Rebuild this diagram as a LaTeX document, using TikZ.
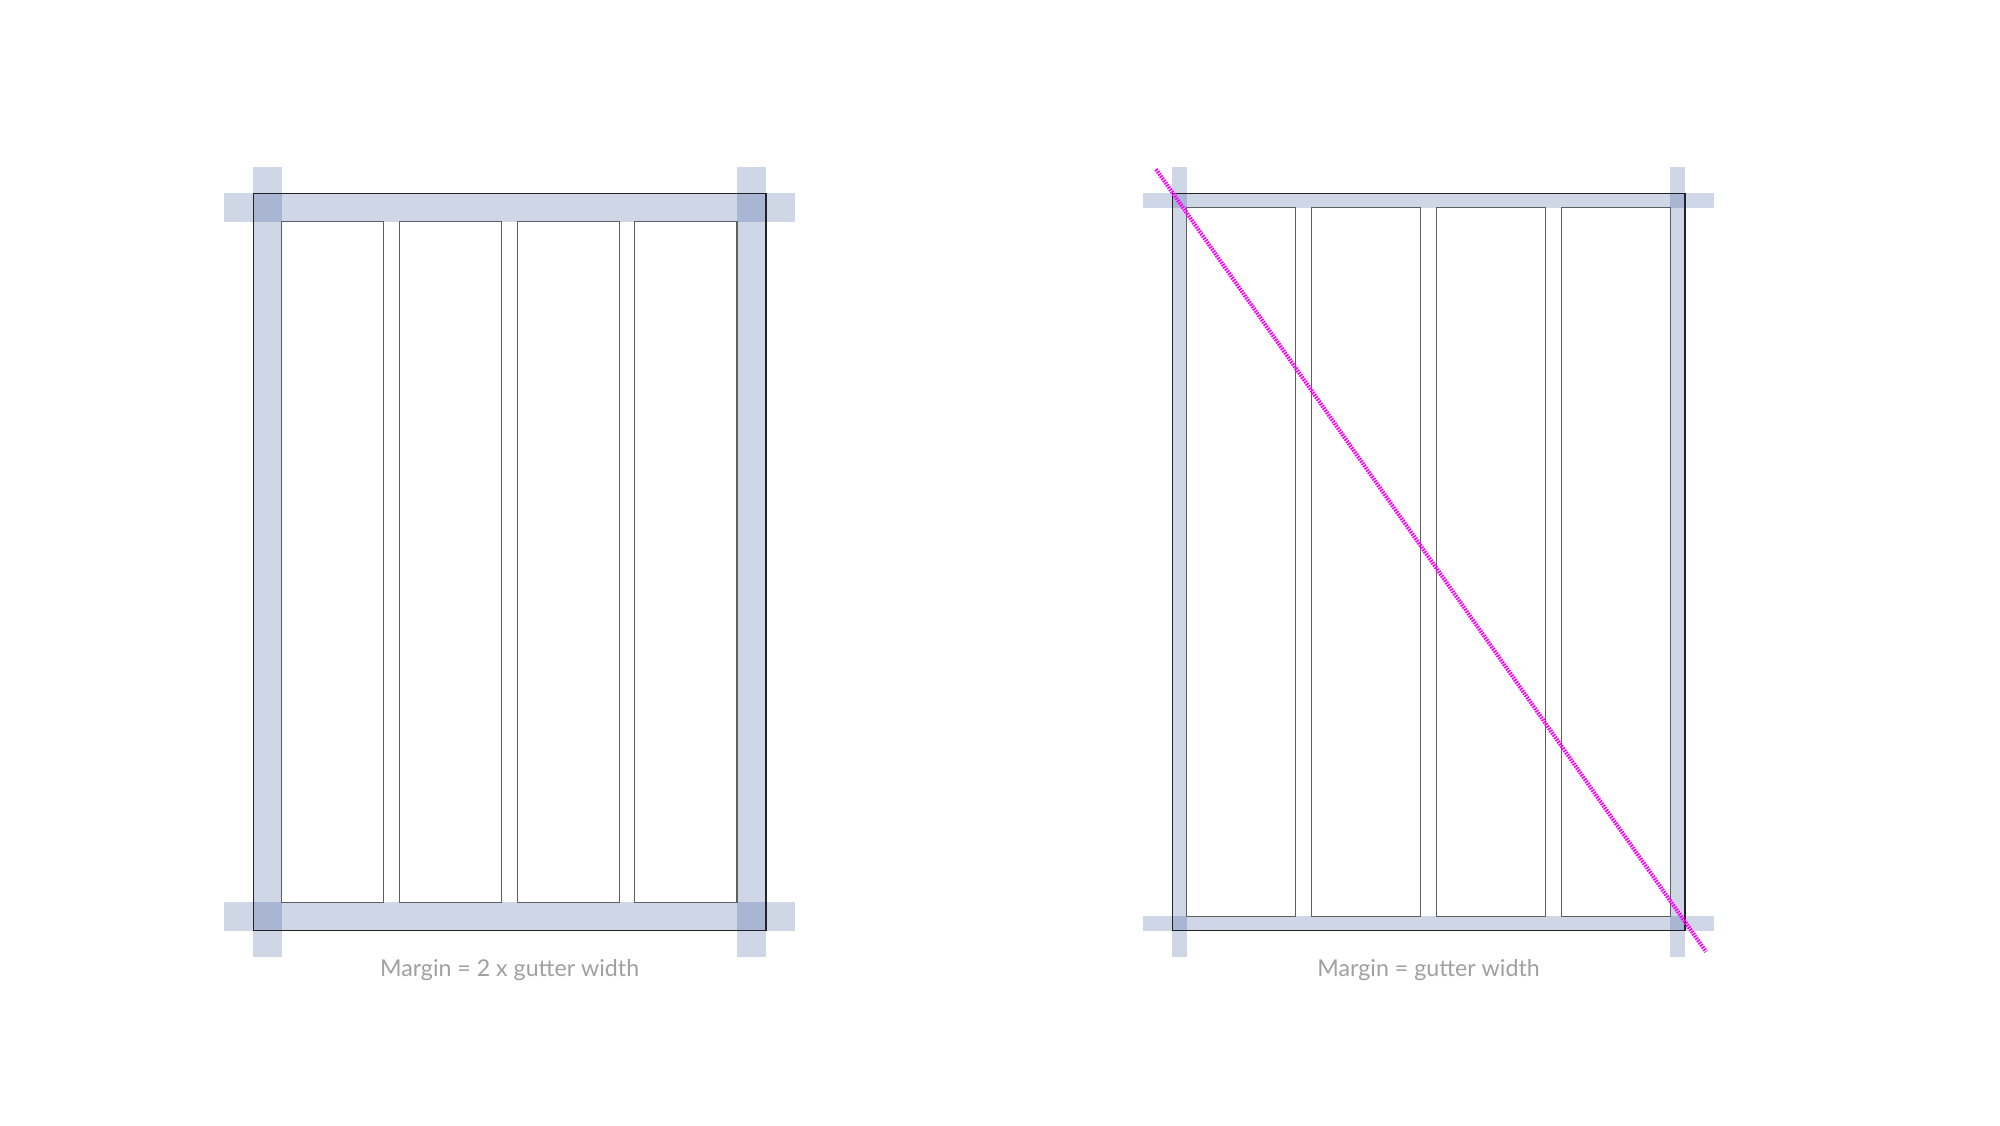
\documentclass[tikz,border=0pt]{standalone}
\usepackage{fontspec}
\setmainfont{Lato}
\usepackage{tikz}
\usetikzlibrary{positioning, backgrounds}

\definecolor{bandblue}{RGB}{0,40,125}
\definecolor{captiongray}{RGB}{160,160,160}
\definecolor{colgray}{RGB}{95,95,95}
\definecolor{framegray}{RGB}{35,35,35}
\definecolor{diagmagenta}{RGB}{250,0,250}

\begin{document}
\begin{tikzpicture}[x=1pt, y=1pt, inner sep=0pt, outer sep=0pt]
      \tikzstyle{frame}=[draw=framegray, line width=0.65pt, minimum width=256.35pt, minimum height=368.7pt]
      \tikzstyle{lcol}=[draw=colgray, line width=0.6pt, minimum width=51.05pt, minimum height=340.2pt]
      \tikzstyle{rcol}=[draw=colgray, line width=0.6pt, minimum width=54.46pt, minimum height=354.2pt]
      \tikzstyle{band}=[fill=bandblue, fill opacity=0.19]
      \tikzstyle{diagline}=[draw=diagmagenta, line width=2pt, dash pattern=on 0.8pt off 0.55pt]
      \tikzstyle{caption}=[text=captiongray, font=\fontsize{11.6}{14}\selectfont, anchor=base]

      \useasboundingbox (0,0) rectangle (1000,562.5);

      % Frames
      \node[frame] (lframe) at (254.8,281.5) {};
      \node[frame] (rframe) at (714.3,281.5) {};

      % Columns, margin = 2 x gutter
      \node[lcol, anchor=north west] (l1) at ([xshift=14.25pt, yshift=-14.25pt]lframe.north west) {};
      \node[lcol] (l2) [right=7.8pt of l1] {};
      \node[lcol] (l3) [right=7.8pt of l2] {};
      \node[lcol] (l4) [right=7.8pt of l3] {};

      % Columns, margin = gutter
      \node[rcol, anchor=north west] (r1) at ([xshift=7.25pt, yshift=-7.25pt]rframe.north west) {};
      \node[rcol] (r2) [right=8pt of r1] {};
      \node[rcol] (r3) [right=8pt of r2] {};
      \node[rcol] (r4) [right=8pt of r3] {};

      % Margin bands
      \begin{scope}[on background layer]
        \fill[band] ([xshift=-14.65pt]lframe.north west) rectangle ([xshift=14.65pt, yshift=-14.25pt]lframe.north east);
        \fill[band] ([xshift=-14.65pt, yshift=14.25pt]lframe.south west) rectangle ([xshift=14.65pt]lframe.south east);
        \fill[band] ([yshift=13.3pt]lframe.north west) rectangle ([xshift=14.25pt, yshift=-13.3pt]lframe.south west);
        \fill[band] ([xshift=-14.25pt, yshift=13.3pt]lframe.north east) rectangle ([yshift=-13.3pt]lframe.south east);

        \fill[band] ([xshift=-14.8pt]rframe.north west) rectangle ([xshift=14.65pt, yshift=-7.25pt]rframe.north east);
        \fill[band] ([xshift=-14.8pt, yshift=7.25pt]rframe.south west) rectangle ([xshift=14.65pt]rframe.south east);
        \fill[band] ([yshift=13.3pt]rframe.north west) rectangle ([xshift=7.25pt, yshift=-13.3pt]rframe.south west);
        \fill[band] ([xshift=-7.25pt, yshift=13.3pt]rframe.north east) rectangle ([yshift=-13.3pt]rframe.south east);
      \end{scope}

      % Diagonal
      \coordinate (dtop) at (578,477.85);
      \coordinate (dbot) at (853,86.65);
      \draw[diagline] (dtop) -- (dbot);

      % Captions
      \node[caption] (lcap) at (254.8,74.15) {Margin = 2 x gutter width};
      \node[caption] (rcap) at (714.3,74.15) {Margin = gutter width};
\end{tikzpicture}
\end{document}
